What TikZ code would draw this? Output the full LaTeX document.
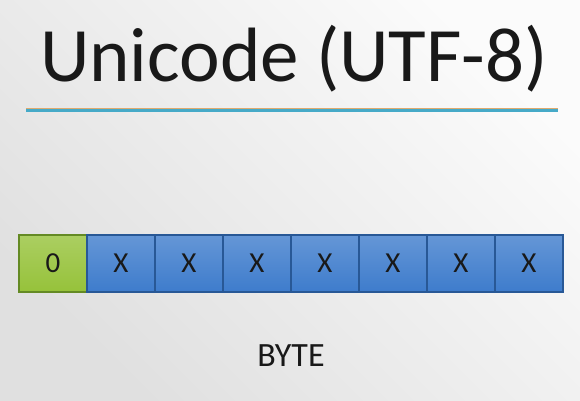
\documentclass[tikz,border=0pt]{standalone}
\usepackage{fontspec}
\setmainfont{Carlito}
\definecolor{bgtop}{RGB}{251,251,251}
\definecolor{bgbot}{RGB}{224,224,224}
\definecolor{cellblue}{RGB}{62,124,204}
\definecolor{cellbluedk}{RGB}{40,88,150}
\definecolor{cellgreen}{RGB}{150,194,58}
\definecolor{cellgreendk}{RGB}{100,138,36}
\definecolor{ruleorange}{RGB}{222,170,110}
\definecolor{ruleteal}{RGB}{70,170,200}
\tikzset{
  bit/.style={minimum width=68pt, minimum height=57pt, inner sep=0pt,
    font=\fontsize{29}{30}\selectfont, text=black!90, line width=1.3pt},
  bitx/.style={bit, draw=cellbluedk, top color=cellblue!80!white, bottom color=cellblue},
  bitzero/.style={bit, draw=cellgreendk, top color=cellgreen!80!white, bottom color=cellgreen},
}
\begin{document}
\begin{tikzpicture}[x=1pt,y=1pt]
  % page background: light in the upper right, greyer toward the lower left
  \shade[left color=bgtop, right color=bgbot, shading angle=-45] (0,0) rectangle (580,400);
  \useasboundingbox (0,0) rectangle (580,400);
  % title and rule beneath it
  \node[font=\fontsize{77}{84}\selectfont, text=black!90] (title) at (294,341) {Unicode (UTF-8)};
  \coordinate (ruleL) at (26,291.5);
  \coordinate (ruleR) at (558,291.5);
  \draw[ruleorange, line width=1.5pt] (ruleL) -- (ruleR);
  \draw[ruleteal, line width=2.2pt] ([yshift=-2pt]ruleL) -- ([yshift=-2pt]ruleR);
  % the eight bits of one byte
  \node[bitzero] (b0) at (53,136.5) {0};
  \foreach \i in {1,...,7} {
    \node[bitx] (b\i) at (53+68*\i,136.5) {X};
  }
  \node[font=\fontsize{34}{40}\selectfont, text=black!90] (byte) at (291,44) {BYTE};
\end{tikzpicture}
\end{document}
